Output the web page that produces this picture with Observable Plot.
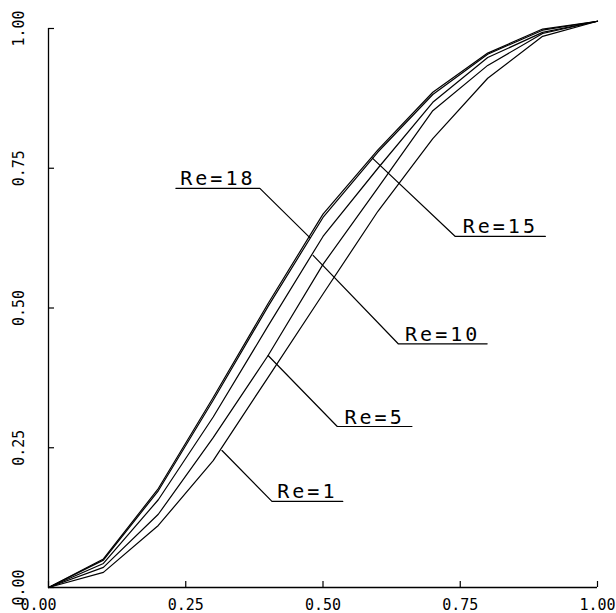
<!DOCTYPE html>
<html>
<head>
<meta charset="utf-8">
<script src="https://cdn.jsdelivr.net/npm/d3@7"></script>
<script src="https://cdn.jsdelivr.net/npm/@observablehq/plot@0.6"></script>
<style>
  body { margin: 0; background: #fff; }
  #chart svg { display: block; }
  g[font-size="20"] text { letter-spacing: 3px; }
</style>
</head>
<body>
<div id="chart"></div>
<script>
// ---- data ----
const xs   = [0, 0.1, 0.2, 0.3, 0.4, 0.5, 0.6, 0.7, 0.8, 0.9, 1.0];
const re18 = [0, 0.051, 0.177, 0.340, 0.508, 0.668, 0.783, 0.886, 0.956, 0.999, 1.013];
const re15 = [0, 0.049, 0.173, 0.335, 0.503, 0.662, 0.779, 0.882, 0.954, 0.997, 1.013];
const re10 = [0, 0.043, 0.157, 0.305, 0.468, 0.628, 0.750, 0.868, 0.948, 0.993, 1.013];
const re5  = [0, 0.036, 0.131, 0.268, 0.415, 0.578, 0.715, 0.853, 0.934, 0.991, 1.013];
const re1  = [0, 0.027, 0.111, 0.227, 0.376, 0.525, 0.673, 0.803, 0.911, 0.986, 1.013];

const seriesNames = ["Re=18", "Re=15", "Re=10", "Re=5", "Re=1"];
const seriesValues = [re18, re15, re10, re5, re1];

const xTicks = [0, 0.25, 0.5, 0.75, 1.0];
const yTicks = [0, 0.25, 0.5, 0.75, 1.0];
const xTickLabels = ["0.00", "0.25", "0.50", "0.75", "1.00"];
const yTickLabels = ["0.00", "0.25", "0.50", "0.75", "1.00"];

// annotation anchors (data units): point on curve, elbow of the leader, far end of underline
const labelTouchX = [0.476, 0.589, 0.482, 0.400, 0.316];
const labelTouchY = [0.626, 0.769, 0.594, 0.415, 0.245];
const labelElbowX = [0.385, 0.741, 0.637, 0.526, 0.407];
const labelElbowY = [0.714, 0.628, 0.436, 0.288, 0.154];
const labelEndX   = [0.232, 0.905, 0.799, 0.662, 0.536];

// ---- build tables ----
const curves = seriesNames.flatMap((name, i) =>
  xs.map((x, j) => ({series: name, x, y: seriesValues[i][j]})));

const leaders = seriesNames.flatMap((name, i) => [
  {series: name, x: labelEndX[i],   y: labelElbowY[i]},
  {series: name, x: labelElbowX[i], y: labelElbowY[i]},
  {series: name, x: labelTouchX[i], y: labelTouchY[i]}
]);

const labels = seriesNames.map((name, i) => ({
  text: name,
  x: (labelElbowX[i] + labelEndX[i]) / 2,
  y: labelElbowY[i]
}));

const xTickRows = xTicks.map((v, i) => ({v, text: xTickLabels[i]}));
const yTickRows = yTicks.map((v, i) => ({v, text: yTickLabels[i]}));

const chart = Plot.plot({
  width: 616,
  height: 613,
  marginLeft: 48,
  marginRight: 19,
  marginTop: 28,
  marginBottom: 26,
  x: {domain: [0, 1], axis: null},
  y: {domain: [0, 1], axis: null},
  style: {fontFamily: "'DejaVu Sans Mono', monospace", fontSize: "15px", background: "#fff", color: "#000"},
  marks: [
    // axis lines
    Plot.ruleX([0], {y1: 0, y2: 1, stroke: "#000", strokeWidth: 1.3}),
    Plot.ruleY([0], {x1: 0, x2: 1, stroke: "#000", strokeWidth: 1.3}),
    // inward tick marks
    Plot.ruleX(xTicks, {x: d => d, y1: 0, y2: 0, insetTop: -6, stroke: "#000", strokeWidth: 1.2}),
    Plot.ruleY(yTicks, {y: d => d, x1: 0, x2: 0, insetRight: -6, stroke: "#000", strokeWidth: 1.2}),
    // x tick labels
    Plot.text(xTickRows.slice(0, 1), {x: "v", y: () => 0, text: "text", dy: 18, dx: -10, fill: "#000", fontSize: 15}),
    Plot.text(xTickRows.slice(1), {x: "v", y: () => 0, text: "text", dy: 18, fill: "#000", fontSize: 15}),
    // y tick labels (rotated)
    Plot.text(yTickRows, {x: () => 0, y: "v", text: "text", rotate: -90, dx: -29, fill: "#000", fontSize: 15}),
    // curves
    Plot.line(curves, {x: "x", y: "y", z: "series", stroke: "#000", strokeWidth: 1.2, curve: "linear"}),
    // leaders with underline
    Plot.line(leaders, {x: "x", y: "y", z: "series", stroke: "#000", strokeWidth: 1.2}),
    Plot.text(labels, {x: "x", y: "y", text: "text", dy: -3, lineAnchor: "bottom", fontSize: 20, fill: "#000"})
  ]
});

document.getElementById("chart").appendChild(chart);
</script>
</body>
</html>
